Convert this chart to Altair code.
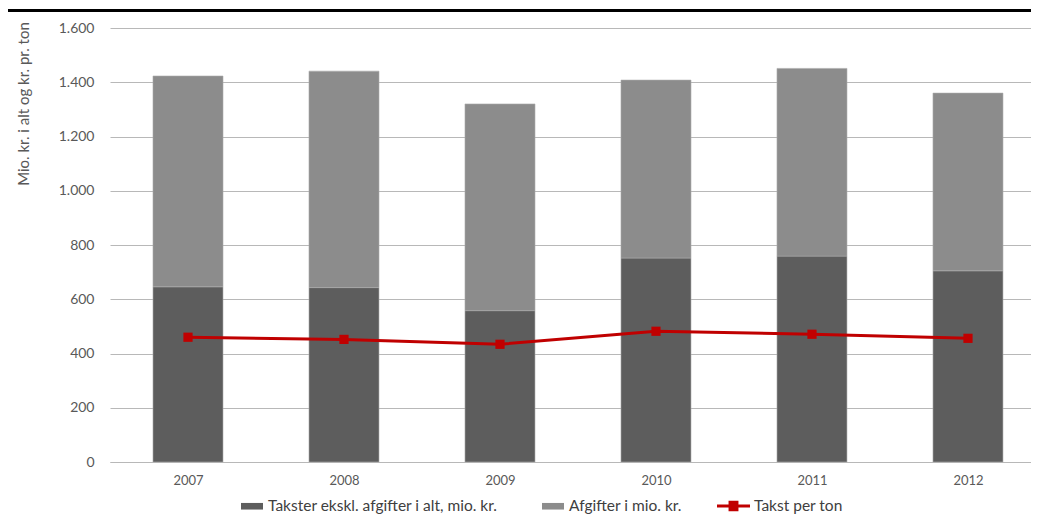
import altair as alt
import pandas as pd

# ---- data ----
years = [2007, 2008, 2009, 2010, 2011, 2012]
takster = [646, 643, 558, 752, 759, 705]          # dark grey, bottom of stack
afgifter = [777, 798, 762, 656, 692, 655]         # light grey, top of stack
takst_per_ton = [460, 452, 434, 482, 471, 456]    # red line
bar_series = ["Takster ekskl. afgifter i alt, mio. kr.", "Afgifter i mio. kr."]
line_series = "Takst per ton"
y_ticks = [0, 200, 400, 600, 800, 1000, 1200, 1400, 1600]
y_title = "Mio. kr. i alt og kr. pr. ton"

rows = []
for i, yr in enumerate(years):
    rows.append({"year": yr, "series": bar_series[0], "value": takster[i], "ord": 0})
    rows.append({"year": yr, "series": bar_series[1], "value": afgifter[i], "ord": 1})
bar_df = pd.DataFrame(rows)
line_df = pd.DataFrame({"year": years, "value": takst_per_ton, "series": [line_series] * len(years)})

FONT = "Lato"
GRID = "#b8b8b8"
TXT = "#595959"
W, H = 921, 434
LEG_FS = 15.5

x_scale = alt.Scale(domain=[2006.5, 2012.404], nice=False, zero=False, padding=0)
y_scale = alt.Scale(domain=[0, 1600], nice=False)

x_axis = alt.Axis(values=years, format="d", title=None, grid=False, ticks=False,
                  domainColor=GRID, domainWidth=1, labelFont=FONT, labelFontSize=13,
                  labelColor=TXT, labelPadding=12, labelFlush=False)
y_axis = alt.Axis(values=y_ticks, labelExpr="replace(format(datum.value, ','), ',', '.')",
                  grid=True, gridColor=GRID, gridWidth=1, domain=False, ticks=False,
                  labelPadding=16, labelFont=FONT, labelFontSize=14, labelColor=TXT,
                  title=y_title, titleFont=FONT, titleFontSize=15, titleFontWeight="normal",
                  titleColor=TXT, titleAngle=270, titleX=-87, titleY=75.5,
                  titleAlign="center", titleBaseline="middle")

top_rule = alt.Chart(alt.Data(values=[{"k": 1}])).mark_rule(color="black", strokeWidth=3).encode(
    x=alt.value(-110), x2=alt.value(W + 10), y=alt.value(-17.5)
)

bars = alt.Chart(bar_df).mark_bar(size=70, stroke="#ababab", strokeWidth=0.6).encode(
    x=alt.X("year:Q", scale=x_scale, axis=x_axis),
    y=alt.Y("value:Q", stack="zero", scale=y_scale, axis=y_axis),
    color=alt.Color("series:N",
                    scale=alt.Scale(domain=bar_series, range=["#5d5d5d", "#8c8c8c"]),
                    legend=alt.Legend(title=None, orient="none", legendX=131, legendY=467,
                                      direction="horizontal",
                                      symbolType="M-1,-0.3H1V0.3H-1Z", symbolSize=484,
                                      symbolStrokeWidth=0, labelFont=FONT, labelFontSize=LEG_FS,
                                      labelColor="#404040", columnPadding=44, labelOffset=5,
                                      labelLimit=400)),
    order=alt.Order("ord:Q"),
)

line_base = alt.Chart(line_df).encode(
    x=alt.X("year:Q", scale=x_scale, axis=x_axis),
    y=alt.Y("value:Q", scale=y_scale, axis=y_axis),
    color=alt.Color("series:N",
                    scale=alt.Scale(domain=[line_series], range=["#c00000"]),
                    legend=alt.Legend(title=None, orient="none", legendX=607, legendY=461.5,
                                      direction="horizontal",
                                      symbolType="M-1,-0.09H1V0.09H-1Z M-0.3,-0.32H0.3V0.32H-0.3Z",
                                      symbolSize=1089, symbolStrokeWidth=0,
                                      symbolFillColor="#c00000",
                                      labelFont=FONT, labelFontSize=LEG_FS, labelColor="#404040",
                                      labelOffset=4, labelLimit=400)),
)
line = line_base.mark_line(strokeWidth=3)
pts = line_base.mark_point(shape="square", filled=True, size=85, opacity=1)

chart = alt.layer(top_rule, bars, alt.layer(pts, line)).resolve_scale(color="independent").properties(
    width=W, height=H, autosize="none",
    padding={"left": 102, "top": 20, "right": 0, "bottom": 52},
    background="white",
).configure_view(strokeWidth=0)

chart.save("out.html", embed_options={"renderer": "svg", "actions": False})
